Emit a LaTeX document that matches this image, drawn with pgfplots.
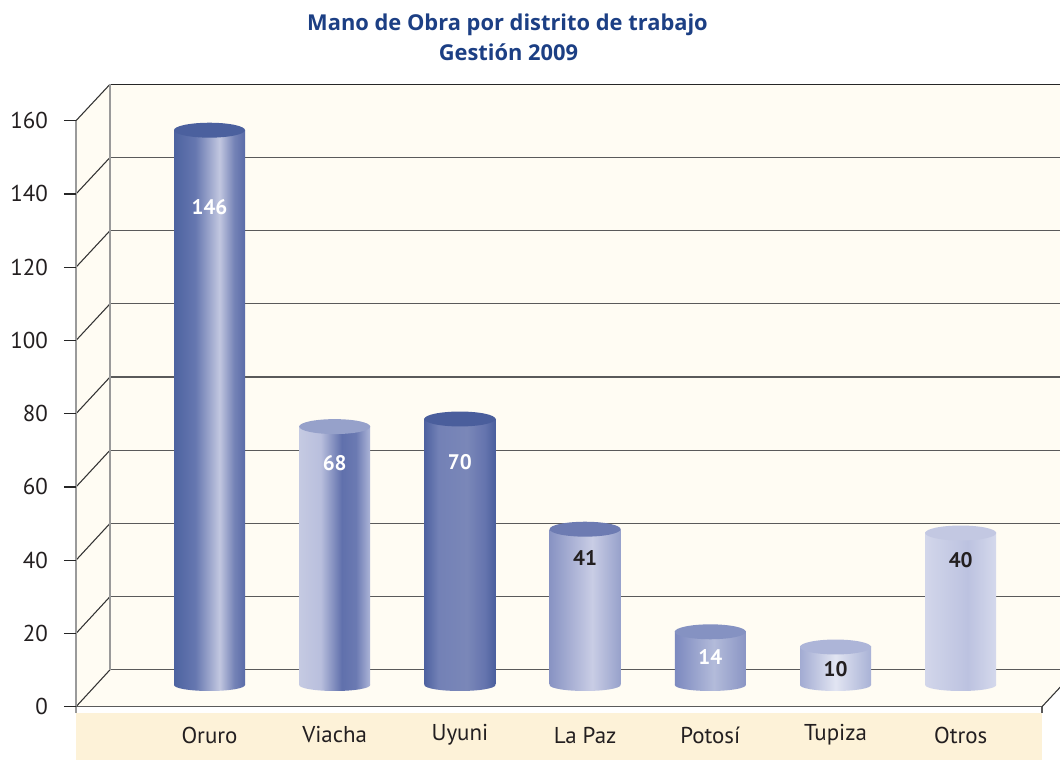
\documentclass[border=0pt]{standalone}
\usepackage{pgfplots}
\pgfplotsset{compat=1.18}
\usepackage{fontspec}
\setmainfont{PT Sans}
\newfontfamily\titlefont{Open Sans}
\definecolor{cream}{HTML}{FFFCF3}
\definecolor{band}{HTML}{FDF2D8}
\definecolor{gridc}{HTML}{5A5A5A}
\definecolor{edgec}{HTML}{9A9A9A}
\definecolor{titlec}{HTML}{1C3F84}
\definecolor{txt}{HTML}{231F20}
% Oruro
\definecolor{a0}{HTML}{4D63A0}\definecolor{a1}{HTML}{6677B0}\definecolor{a2}{HTML}{C2C7E0}\definecolor{a3}{HTML}{7482B6}\definecolor{a4}{HTML}{5A6CA8}\definecolor{at}{HTML}{4B609E}
\pgfdeclarehorizontalshading{shA}{100bp}{color(0bp)=(a0); color(25bp)=(a0); color(40bp)=(a1); color(57bp)=(a2); color(67.5bp)=(a3); color(75bp)=(a4); color(100bp)=(a4)}
% Viacha
\definecolor{b0}{HTML}{C5CAE2}\definecolor{b1}{HTML}{B9BFDD}\definecolor{b2}{HTML}{6070AC}\definecolor{b3}{HTML}{6B7AB2}\definecolor{b4}{HTML}{ADB5D8}\definecolor{bt}{HTML}{96A1CA}
\pgfdeclarehorizontalshading{shB}{100bp}{color(0bp)=(b0); color(25bp)=(b0); color(40bp)=(b1); color(55bp)=(b2); color(65bp)=(b3); color(75bp)=(b4); color(100bp)=(b4)}
% Uyuni
\definecolor{c0}{HTML}{4E62A0}\definecolor{c1}{HTML}{7381B6}\definecolor{c2}{HTML}{7A87B8}\definecolor{c3}{HTML}{6574AE}\definecolor{c4}{HTML}{4B5F9D}\definecolor{ct}{HTML}{4A5E9C}
\pgfdeclarehorizontalshading{shC}{100bp}{color(0bp)=(c0); color(25bp)=(c0); color(35bp)=(c1); color(55bp)=(c2); color(67.5bp)=(c3); color(75bp)=(c4); color(100bp)=(c4)}
% La Paz
\definecolor{d0}{HTML}{8893C3}\definecolor{d1}{HTML}{C9CDE5}\definecolor{d2}{HTML}{97A1CB}\definecolor{dt}{HTML}{6D7BB2}
\pgfdeclarehorizontalshading{shD}{100bp}{color(0bp)=(d0); color(25bp)=(d0); color(55bp)=(d1); color(75bp)=(d2); color(100bp)=(d2)}
% Potosi
\definecolor{e0}{HTML}{7C89BF}\definecolor{e1}{HTML}{B3BBDA}\definecolor{e2}{HTML}{8A95C4}\definecolor{et}{HTML}{8592C2}
\pgfdeclarehorizontalshading{shE}{100bp}{color(0bp)=(e0); color(25bp)=(e0); color(52.5bp)=(e1); color(75bp)=(e2); color(100bp)=(e2)}
% Tupiza
\definecolor{f0}{HTML}{A2ABD2}\definecolor{f1}{HTML}{E2E5F2}\definecolor{f2}{HTML}{A9B2D6}\definecolor{ft}{HTML}{ADB5D8}
\pgfdeclarehorizontalshading{shF}{100bp}{color(0bp)=(f0); color(25bp)=(f0); color(50bp)=(f1); color(75bp)=(f2); color(100bp)=(f2)}
% Otros
\definecolor{g0}{HTML}{D2D6EA}\definecolor{g1}{HTML}{BCC2E0}\definecolor{g2}{HTML}{D5D9EC}\definecolor{gt}{HTML}{C3C8E2}
\pgfdeclarehorizontalshading{shG}{100bp}{color(0bp)=(g0); color(25bp)=(g0); color(55bp)=(g1); color(75bp)=(g2); color(100bp)=(g2)}
\newcommand\cylmark[1]{\pgfdeclareplotmark{cb#1}{\pgfpathellipse{\pgfpointorigin}{\pgfqpoint{26.625pt}{0pt}}{\pgfqpoint{0pt}{4.5pt}}\pgfshadepath{sh#1}{0}\pgfusepath{discard}}}
\cylmark{A}\cylmark{B}\cylmark{C}\cylmark{D}\cylmark{E}\cylmark{F}\cylmark{G}
\pgfdeclareplotmark{ctop}{\pgfpathellipse{\pgfpointorigin}{\pgfqpoint{26.625pt}{0pt}}{\pgfqpoint{0pt}{5.6pt}}\pgfusepathqfill}
\newcommand\lblfont{\fontsize{17.2}{20}\selectfont}
\newcommand\valfont{\fontsize{15.8}{18}\selectfont}
\pgfplotsset{
  cyl/.style n args={4}{ybar, bar width=53.25pt, bar shift=0pt, draw=none, shade, shading=sh#1,
    nodes near coords, nodes near coords style={#2, font=\valfont\bfseries, anchor=center, yshift=-#3pt}},
  cylbot/.style={only marks, mark=cb#1},
  cyltop/.style={only marks, mark=ctop, mark options={draw=none, fill=#1}},
}
\begin{document}
\begin{tikzpicture}
\useasboundingbox (0,0) rectangle (795pt,570pt);
% frame in pixel coordinates
\begin{axis}[at={(0,0)}, anchor=south west, scale only axis, width=795pt, height=570pt,
  xmin=0, xmax=1060, ymin=0, ymax=760, y dir=reverse, axis lines=none, clip=true]
  \fill[cream] (76,120.7) -- (110,84.3) -- (1060,84.3) -- (1060,687.7) -- (1042,706.7) -- (76,706.7) -- cycle;
  \fill[band] (76,713.3) rectangle (1042,760);
  \pgfplotsinvokeforeach{0,...,7}{
    \draw[gridc, line width=0.95pt] (110,{669.8-73.19*#1}) -- (1060,{669.8-73.19*#1});
    \draw[black!80, line width=0.8pt] (76,{706.7-73.25*#1}) -- (110,{669.8-73.19*#1});
  }
  \draw[black!80, line width=0.8pt] (76,120.7) -- (110,84.3);
  \draw[black!85, line width=1.1pt] (110,84.3) -- (1060,84.3);
  \draw[edgec, line width=1.1pt] (110,84.3) -- (110,669.8);
  \draw[edgec, line width=1.1pt] (76,120.7) -- (76,713.3);
  \draw[gridc, line width=1.1pt] (76,706.7) -- (1042,706.7) -- (1042,713.3);
  \draw[black!80, line width=0.8pt] (1042,706.7) -- (1076,670.2);
  \node[titlec, font=\titlefont\fontsize{16.4}{19}\selectfont\bfseries, anchor=base] at (507.5,30) {Mano de Obra por distrito de trabajo};
  \node[titlec, font=\titlefont\fontsize{16.4}{19}\selectfont\bfseries, anchor=base] at (508.5,60) {Gestión 2009};
\end{axis}
% y ticks on front edge
\begin{axis}[at={(57pt,39.975pt)}, anchor=south west, scale only axis, width=5pt, height=439.5pt,
  xmin=0, xmax=1, ymin=0, ymax=160, ytick={0,20,...,160},
  axis x line=none, axis y line*=left, y axis line style={draw=none},
  tick align=outside, major tick length=9pt, major tick style={black!85, line width=0.9pt},
  /pgf/number format/assume math mode=true,
  yticklabel style={font=\lblfont, text=txt, xshift=-8.5pt}]
\end{axis}
% cylinders
\begin{axis}[at={(6.885pt,42pt)}, anchor=south west, x=93.9pt, y=2.85pt,
  xmin=-1.6, xmax=6.8, ymin=-5, ymax=165, clip=false,
  axis x line*=bottom, axis y line=none, x axis line style={draw=none},
  xtick={0,...,6}, xticklabels={Oruro,Viacha,Uyuni,La Paz,Potosí,Tupiza,Otros},
  major tick length=0pt, xtick style={draw=none},
  /pgf/number format/assume math mode=true,
  xticklabel style={font=\lblfont, text=txt, anchor=center, yshift=-23.25pt}]
  \addplot[cylbot=A] coordinates {(0,0)};
  \addplot[cyl={A}{white}{57.4}{}] coordinates {(0,146)};
  \addplot[cyltop=at] coordinates {(0,146)};
  \addplot[cylbot=B] coordinates {(1,0)};
  \addplot[cyl={B}{white}{27.3}{}] coordinates {(1,68)};
  \addplot[cyltop=bt] coordinates {(1,68)};
  \addplot[cylbot=C] coordinates {(2,0)};
  \addplot[cyl={C}{white}{32.3}{}] coordinates {(2,70)};
  \addplot[cyltop=ct] coordinates {(2,70)};
  \addplot[cylbot=D] coordinates {(3,0)};
  \addplot[cyl={D}{txt}{21.7}{}] coordinates {(3,41)};
  \addplot[cyltop=dt] coordinates {(3,41)};
  \addplot[cylbot=E] coordinates {(4,0)};
  \addplot[cyl={E}{white}{19.1}{}] coordinates {(4,14)};
  \addplot[cyltop=et] coordinates {(4,14)};
  \addplot[cylbot=F] coordinates {(5,0)};
  \addplot[cyl={F}{txt}{16.7}{}] coordinates {(5,10)};
  \addplot[cyltop=ft] coordinates {(5,10)};
  \addplot[cylbot=G] coordinates {(6,0)};
  \addplot[cyl={G}{txt}{20.3}{}] coordinates {(6,40)};
  \addplot[cyltop=gt] coordinates {(6,40)};
\end{axis}
\end{tikzpicture}
\end{document}
